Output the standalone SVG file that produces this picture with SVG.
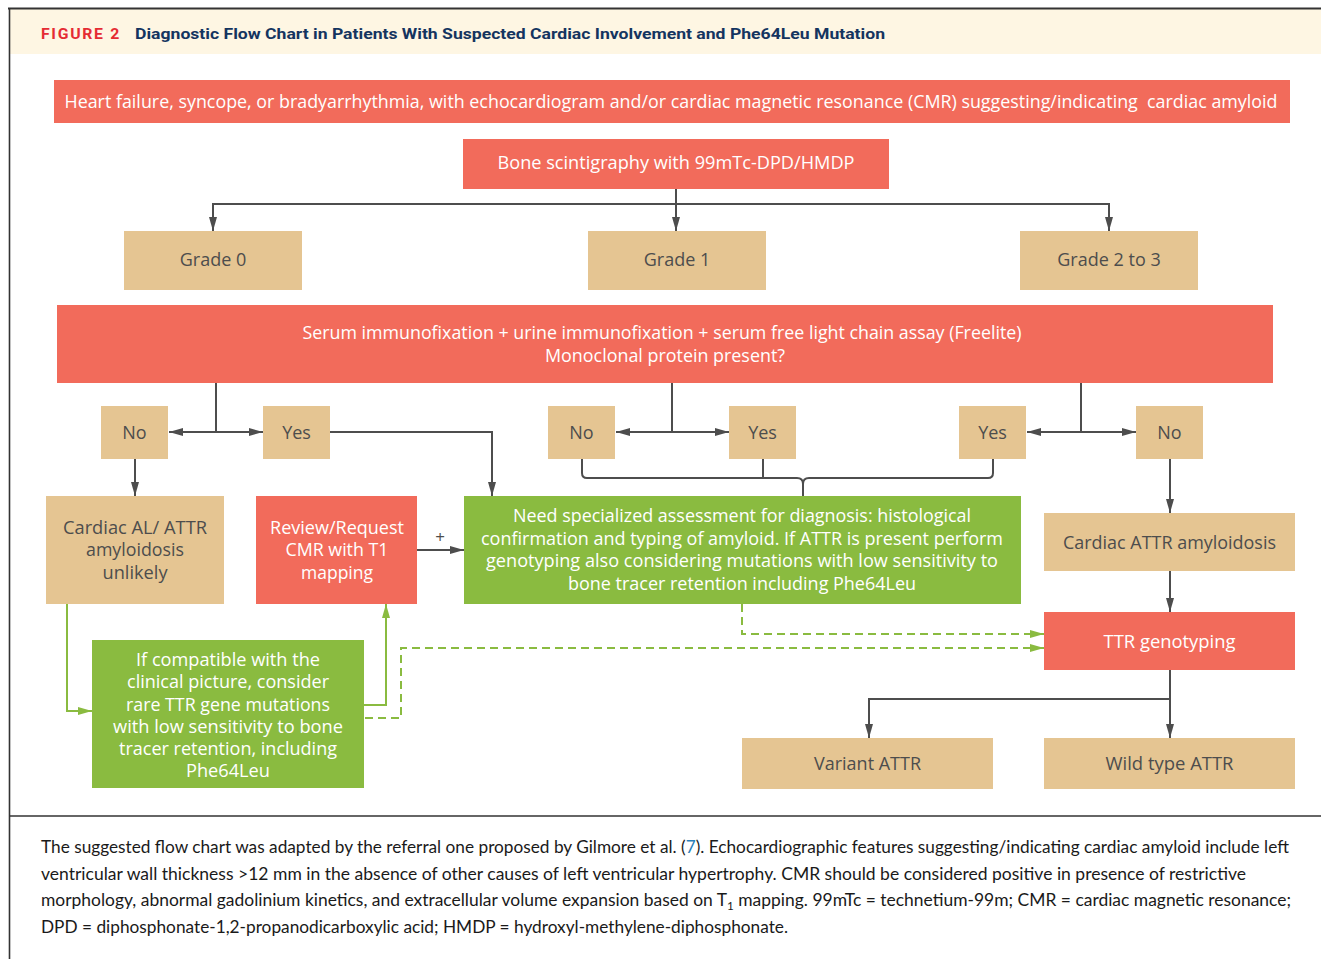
<svg xmlns="http://www.w3.org/2000/svg" width="1321" height="959" viewBox="0 0 1321 959">
<style>
.red{fill:#F26B5B}
.tan{fill:#E5C592}
.grn{fill:#8ABB40}
.t{font-family:"Open Sans","Noto Sans",sans-serif;font-size:18px;text-anchor:middle}
.w{fill:#FFFFFF}
.d{fill:#4D4D4D}
.c{fill:none;stroke:#4D4D4D;stroke-width:2}
.g{fill:none;stroke:#8ABB40;stroke-width:2}
.gd{fill:none;stroke:#8ABB40;stroke-width:2;stroke-dasharray:8 5}
.cap{font-family:Lato,"Open Sans",sans-serif;font-size:16.5px;fill:#1A1A1A}
</style>
<defs>
<marker id="ah" markerUnits="userSpaceOnUse" markerWidth="14" markerHeight="8" refX="14" refY="4" orient="auto">
<path d="M0,0 L14,4 L0,8 z" fill="#4D4D4D"/>
</marker>
<marker id="ag" markerUnits="userSpaceOnUse" markerWidth="14" markerHeight="8" refX="14" refY="4" orient="auto">
<path d="M0,0 L14,4 L0,8 z" fill="#8ABB40"/>
</marker>
</defs>
<rect x="0" y="0" width="1321" height="959" fill="#FFFFFF"/>
<g id="frame">
<rect x="10" y="9" width="1311" height="45" fill="#FEF6E3"/>
<line x1="8" y1="8.5" x2="1321" y2="8.5" stroke="#333333" stroke-width="2"/>
<line x1="9.5" y1="8" x2="9.5" y2="959" stroke="#333333" stroke-width="1.6"/>
<line x1="9" y1="816" x2="1321" y2="816" stroke="#333333" stroke-width="1.6"/>
<text x="41" y="38.5" font-family="Roboto,'Open Sans',sans-serif" font-weight="bold" font-size="14" fill="#E52B33" letter-spacing="1.5" textLength="80" lengthAdjust="spacingAndGlyphs">FIGURE 2</text>
<text x="135" y="38.5" font-family="Roboto,'Open Sans',sans-serif" font-weight="bold" font-size="15.5" fill="#14345F" textLength="750" lengthAdjust="spacingAndGlyphs">Diagnostic Flow Chart in Patients With Suspected Cardiac Involvement and Phe64Leu Mutation</text>
</g>
<g id="connectors">
<path class="c" d="M676 189 V231" marker-end="url(#ah)"/>
<path class="c" d="M676 204 H213 V231" marker-end="url(#ah)"/>
<path class="c" d="M676 204 H1109 V231" marker-end="url(#ah)"/>
<path class="c" d="M216 383 V432"/>
<path class="c" d="M216 432 H169" marker-end="url(#ah)"/>
<path class="c" d="M216 432 H263" marker-end="url(#ah)"/>
<path class="c" d="M330 432 H492 V496" marker-end="url(#ah)"/>
<path class="c" d="M135 459 V496" marker-end="url(#ah)"/>
<path class="c" d="M672 383 V432"/>
<path class="c" d="M672 432 H616" marker-end="url(#ah)"/>
<path class="c" d="M672 432 H729" marker-end="url(#ah)"/>
<path class="c" d="M1081 383 V432"/>
<path class="c" d="M1081 432 H1027" marker-end="url(#ah)"/>
<path class="c" d="M1081 432 H1136" marker-end="url(#ah)"/>
<path class="c" d="M582 459 V473 Q582 478 587 478 H797 Q803 478 803 484 V496"/>
<path class="c" d="M993 459 V473 Q993 478 988 478 H809 Q803 478 803 484"/>
<path class="c" d="M763 459 V478"/>
<path class="c" d="M417 550 H464" marker-end="url(#ah)"/>
<path class="c" d="M1170 459 V513" marker-end="url(#ah)"/>
<path class="c" d="M1170 571 V612" marker-end="url(#ah)"/>
<path class="c" d="M1170 670 V738" marker-end="url(#ah)"/>
<path class="c" d="M1170 699 H869 V738" marker-end="url(#ah)"/>
<path class="g" d="M67 604 V711 H92" marker-end="url(#ag)"/>
<path class="g" d="M364 705 H386 V604" marker-end="url(#ag)"/>
<path class="gd" d="M742 604 V634 H1044" marker-end="url(#ag)"/>
<path class="gd" d="M365 718 H401 V648 H1044" marker-end="url(#ag)"/>
<text x="440" y="543" font-family="'Open Sans',sans-serif" font-size="17" fill="#4D4D4D" text-anchor="middle">+</text>
</g>
<g id="n-top">
<rect class="red" x="54" y="80" width="1236" height="43"/>
<text class="t w" x="671" y="107.5" textLength="1213" lengthAdjust="spacingAndGlyphs">Heart failure, syncope, or bradyarrhythmia, with echocardiogram and/or cardiac magnetic resonance (CMR) suggesting/indicating&#160; cardiac amyloid</text>
</g>
<g id="n-bone">
<rect class="red" x="463" y="139" width="426" height="50"/>
<text class="t w" x="676" y="169" textLength="357" lengthAdjust="spacingAndGlyphs">Bone scintigraphy with 99mTc-DPD/HMDP</text>
</g>
<g id="n-grade0">
<rect class="tan" x="124" y="231" width="178" height="59"/>
<text class="t d" x="213" y="266">Grade 0</text>
</g>
<g id="n-grade1">
<rect class="tan" x="588" y="231" width="178" height="59"/>
<text class="t d" x="677" y="266">Grade 1</text>
</g>
<g id="n-grade23">
<rect class="tan" x="1020" y="231" width="178" height="59"/>
<text class="t d" x="1109" y="266">Grade 2 to 3</text>
</g>
<g id="n-serum">
<rect class="red" x="57" y="305" width="1216" height="78"/>
<text class="t w" x="662" y="338.5" textLength="719" lengthAdjust="spacingAndGlyphs">Serum immunofixation + urine immunofixation + serum free light chain assay (Freelite)</text>
<text class="t w" x="665" y="361.5" textLength="240" lengthAdjust="spacingAndGlyphs">Monoclonal protein present?</text>
</g>
<g id="n-no1">
<rect class="tan" x="101" y="406" width="67" height="53"/>
<text class="t d" x="134.5" y="438.5">No</text>
</g>
<g id="n-yes1">
<rect class="tan" x="263" y="406" width="67" height="53"/>
<text class="t d" x="296.5" y="438.5">Yes</text>
</g>
<g id="n-no2">
<rect class="tan" x="548" y="406" width="67" height="53"/>
<text class="t d" x="581.5" y="438.5">No</text>
</g>
<g id="n-yes2">
<rect class="tan" x="729" y="406" width="67" height="53"/>
<text class="t d" x="762.5" y="438.5">Yes</text>
</g>
<g id="n-yes3">
<rect class="tan" x="959" y="406" width="67" height="53"/>
<text class="t d" x="992.5" y="438.5">Yes</text>
</g>
<g id="n-no3">
<rect class="tan" x="1136" y="406" width="67" height="53"/>
<text class="t d" x="1169.5" y="438.5">No</text>
</g>
<g id="n-unlikely">
<rect class="tan" x="46" y="496" width="178" height="108"/>
<text class="t d" x="135" y="533.5" textLength="144" lengthAdjust="spacingAndGlyphs">Cardiac AL/ ATTR</text>
<text class="t d" x="135" y="556" textLength="98" lengthAdjust="spacingAndGlyphs">amyloidosis</text>
<text class="t d" x="135" y="578.5" textLength="65" lengthAdjust="spacingAndGlyphs">unlikely</text>
</g>
<g id="n-review">
<rect class="red" x="256" y="496" width="161" height="108"/>
<text class="t w" x="337" y="533.5" textLength="134" lengthAdjust="spacingAndGlyphs">Review/Request</text>
<text class="t w" x="337" y="556" textLength="103" lengthAdjust="spacingAndGlyphs">CMR with T1</text>
<text class="t w" x="337" y="578.5" textLength="72" lengthAdjust="spacingAndGlyphs">mapping</text>
</g>
<g id="n-special">
<rect class="grn" x="464" y="496" width="557" height="108"/>
<text class="t w" x="742" y="521.5" textLength="458" lengthAdjust="spacingAndGlyphs">Need specialized assessment for diagnosis: histological</text>
<text class="t w" x="742" y="544.5" textLength="522" lengthAdjust="spacingAndGlyphs">confirmation and typing of amyloid. If ATTR is present perform</text>
<text class="t w" x="742" y="567" textLength="512" lengthAdjust="spacingAndGlyphs">genotyping also considering mutations with low sensitivity to</text>
<text class="t w" x="742" y="589.5" textLength="348" lengthAdjust="spacingAndGlyphs">bone tracer retention including Phe64Leu</text>
</g>
<g id="n-attr">
<rect class="tan" x="1044" y="513" width="251" height="58"/>
<text class="t d" x="1169.5" y="548.5" textLength="213" lengthAdjust="spacingAndGlyphs">Cardiac ATTR amyloidosis</text>
</g>
<g id="n-ttr">
<rect class="red" x="1044" y="612" width="251" height="58"/>
<text class="t w" x="1169.5" y="647.5" textLength="132" lengthAdjust="spacingAndGlyphs">TTR genotyping</text>
</g>
<g id="n-rare">
<rect class="grn" x="92" y="640" width="272" height="148"/>
<text class="t w" x="228" y="665.5" textLength="184" lengthAdjust="spacingAndGlyphs">If compatible with the</text>
<text class="t w" x="228" y="688" textLength="202" lengthAdjust="spacingAndGlyphs">clinical picture, consider</text>
<text class="t w" x="228" y="710.5" textLength="204" lengthAdjust="spacingAndGlyphs">rare TTR gene mutations</text>
<text class="t w" x="228" y="732.5" textLength="230" lengthAdjust="spacingAndGlyphs">with low sensitivity to bone</text>
<text class="t w" x="228" y="754.5" textLength="218" lengthAdjust="spacingAndGlyphs">tracer retention, including</text>
<text class="t w" x="228" y="777" textLength="84" lengthAdjust="spacingAndGlyphs">Phe64Leu</text>
</g>
<g id="n-variant">
<rect class="tan" x="742" y="738" width="251" height="51"/>
<text class="t d" x="867.5" y="769.5" textLength="107" lengthAdjust="spacingAndGlyphs">Variant ATTR</text>
</g>
<g id="n-wild">
<rect class="tan" x="1044" y="738" width="251" height="51"/>
<text class="t d" x="1169.5" y="769.5" textLength="128" lengthAdjust="spacingAndGlyphs">Wild type ATTR</text>
</g>
<g id="caption">
<text class="cap" x="41" y="853" textLength="1248" lengthAdjust="spacingAndGlyphs">The suggested flow chart was adapted by the referral one proposed by Gilmore et al. (<tspan fill="#2A7FB8">7</tspan>). Echocardiographic features suggesting/indicating cardiac amyloid include left</text>
<text class="cap" x="41" y="879.5" textLength="1205" lengthAdjust="spacingAndGlyphs">ventricular wall thickness &gt;12 mm in the absence of other causes of left ventricular hypertrophy. CMR should be considered positive in presence of restrictive</text>
<text class="cap" x="41" y="906" textLength="1250" lengthAdjust="spacingAndGlyphs">morphology, abnormal gadolinium kinetics, and extracellular volume expansion based on T<tspan font-size="11" dy="4">1</tspan><tspan dy="-4"> mapping. 99mTc = technetium-99m; CMR = cardiac magnetic resonance;</tspan></text>
<text class="cap" x="41" y="932.5" textLength="747" lengthAdjust="spacingAndGlyphs">DPD = diphosphonate-1,2-propanodicarboxylic acid; HMDP = hydroxyl-methylene-diphosphonate.</text>
</g>
</svg>
